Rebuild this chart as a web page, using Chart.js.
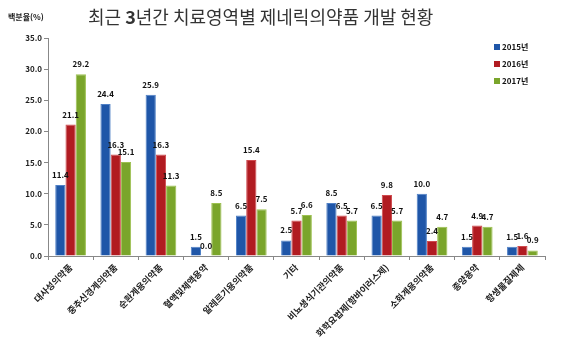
<!DOCTYPE html>
<html>
<head>
<meta charset="utf-8">
<script src="https://cdn.jsdelivr.net/npm/chart.js@4/dist/chart.umd.min.js"></script>
<style>
  html, body { margin: 0; padding: 0; background: #fff; }
  #wrap { width: 580px; height: 354px; }
</style>
</head>
<body>
<div id="wrap"><canvas id="chart" width="580" height="354"></canvas></div>
<script>
// chart data
const categories = ['대사성의약품', '중추신경계의약품', '순환계용의약품', '혈액및체액용약', '알레르기용의약품', '기타',
  '비뇨생식기관의약품', '화학요법제(항바이러스제)', '소화계용의약품', '종양용약', '항생물질제제'];
const seriesNames = ['2015년', '2016년', '2017년'];
const values2015 = [11.4, 24.4, 25.9, 1.5, 6.5, 2.5, 8.5, 6.5, 10.0, 1.5, 1.5];
const values2016 = [21.1, 16.3, 16.3, 0.0, 15.4, 5.7, 6.5, 9.8, 2.4, 4.9, 1.6];
const values2017 = [29.2, 15.1, 11.3, 8.5, 7.5, 6.6, 5.7, 5.7, 4.7, 4.7, 0.9];
const colors = ['#1f56a8', '#b11b21', '#7aa52b'];
const edgeColors = ['#4f80c6', '#cf4a4e', '#9dc150'];

const FONT = '"Noto Sans CJK KR", "Noto Sans", sans-serif';

// value labels on top of bars
const valueLabels = {
  id: 'valueLabels',
  afterDatasetsDraw(chart) {
    const ctx = chart.ctx;
    ctx.save();
    ctx.font = 'bold 8px ' + FONT;
    ctx.fillStyle = '#111';
    ctx.textAlign = 'center';
    ctx.textBaseline = 'bottom';
    chart.data.datasets.forEach((ds, i) => {
      chart.getDatasetMeta(i).data.forEach((bar, j) => {
        ctx.fillText(ds.data[j].toFixed(1), bar.x, bar.y - 6);
      });
    });
    ctx.restore();
  }
};

// title, unit label and legend
const decorations = {
  id: 'decorations',
  afterDraw(chart) {
    const ctx = chart.ctx;
    ctx.save();
    ctx.textBaseline = 'middle';
    ctx.fillStyle = '#222';
    ctx.font = 'bold 8px ' + FONT;
    ctx.textAlign = 'left';
    ctx.fillText('백분율(%)', 8, 17);

    // title with a bold "3"
    const parts = [['최근 ', 'normal'], ['3', 'bold'], ['년간 치료영역별 제네릭의약품 개발 현황', 'normal']];
    let x = 88;
    parts.forEach(([t, w]) => {
      ctx.font = w + ' 18px ' + FONT;
      ctx.fillStyle = '#333';
      ctx.fillText(t, x, 17);
      x += ctx.measureText(t).width;
    });

    // legend
    ctx.font = 'bold 8px ' + FONT;
    chart.data.datasets.forEach((ds, i) => {
      const y = 47 + i * 17;
      ctx.fillStyle = ds.backgroundColor;
      ctx.fillRect(494, y - 3, 6, 6);
      ctx.fillStyle = '#111';
      ctx.fillText(ds.label, 502, y);
    });
    ctx.restore();
  }
};

const ctx = document.getElementById('chart').getContext('2d');

new Chart(ctx, {
  type: 'bar',
  data: {
    labels: categories,
    datasets: [
      { label: seriesNames[0], data: values2015, backgroundColor: colors[0], borderColor: edgeColors[0] },
      { label: seriesNames[1], data: values2016, backgroundColor: colors[1], borderColor: edgeColors[1] },
      { label: seriesNames[2], data: values2017, backgroundColor: colors[2], borderColor: edgeColors[2] },
    ]
  },
  options: {
    responsive: false,
    animation: false,
    layout: { padding: { top: 38, right: 35, left: 0, bottom: 0 } },
    datasets: { bar: { categoryPercentage: 0.68, barPercentage: 1.0, borderWidth: 1 } },
    plugins: {
      legend: { display: false },
      tooltip: { enabled: false }
    },
    scales: {
      x: {
        afterFit(scale) { scale.height = 98; },
        grid: { offset: true, drawOnChartArea: false, tickLength: 4, color: '#888' },
        border: { color: '#888' },
        ticks: {
          maxRotation: 45, minRotation: 45, autoSkip: false,
          font: { family: FONT, size: 9, weight: 'bold' }, color: '#222', padding: 2
        }
      },
      y: {
        min: 0, max: 35,
        afterFit(scale) { scale.width = 48; },
        grid: { drawOnChartArea: false, tickLength: 4, color: '#888' },
        border: { color: '#888' },
        ticks: {
          stepSize: 5,
          callback: (v) => v.toFixed(1),
          font: { family: FONT, size: 8, weight: 'bold' }, color: '#222', padding: 2
        }
      }
    }
  },
  plugins: [valueLabels, decorations]
});
</script>
</body>
</html>
